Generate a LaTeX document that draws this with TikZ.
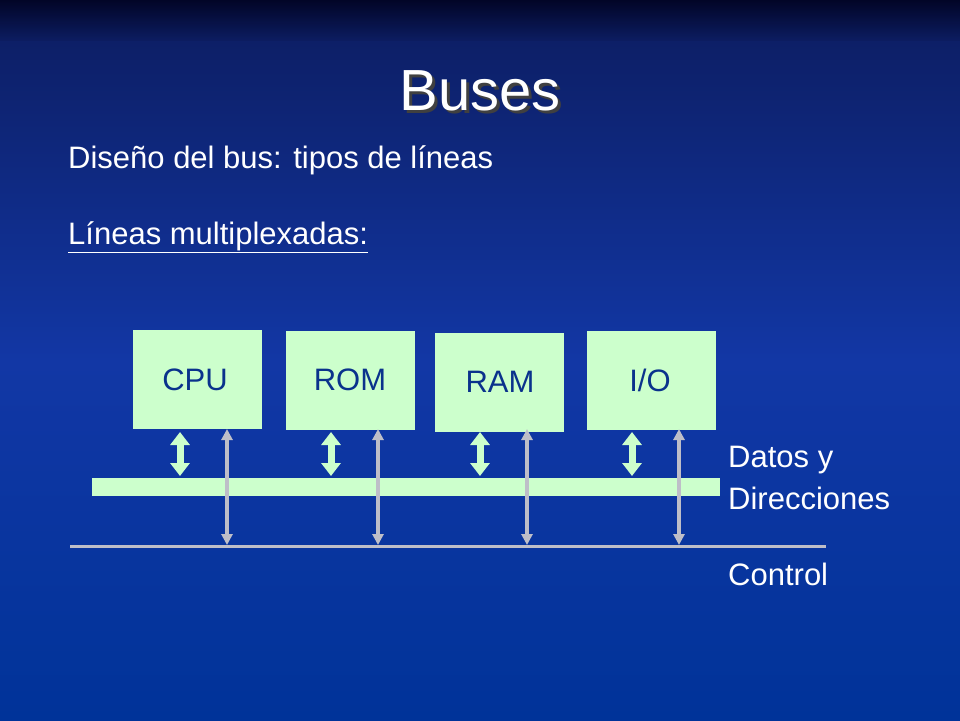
\documentclass[tikz,border=0pt]{standalone}
\usepackage{fontspec}
\setmainfont{Liberation Sans}
\usetikzlibrary{arrows.meta}
\definecolor{boxg}{RGB}{204,255,204}
\definecolor{txtb}{RGB}{10,50,140}
\definecolor{grayl}{RGB}{190,190,200}
\definecolor{bgtop}{RGB}{12,28,95}
\definecolor{bgmid}{RGB}{18,55,165}
\definecolor{bgbot}{RGB}{0,51,153}
\begin{document}
\begin{tikzpicture}[x=1pt,y=-1pt,
  unit/.style={fill=boxg,minimum width=129pt,minimum height=99pt,inner sep=0pt},
  utext/.style={text=txtb,font=\fontsize{31}{34}\selectfont},
  fat/.style={boxg,line width=7pt,{Triangle[width=19pt,length=13pt]}-{Triangle[width=19pt,length=13pt]}},
  ctl/.style={grayl,line width=4.5pt,{Triangle[width=11pt,length=11pt]}-{Triangle[width=11pt,length=11pt]}},
  lbl/.style={text=white,anchor=west,inner sep=0pt,font=\fontsize{31}{34}\selectfont}]
\shade[top color=bgtop,bottom color=bgbot,middle color=bgmid] (0,0) rectangle (960,720);
\shade[top color=black!90!blue,bottom color=bgtop,opacity=0.8] (0,0) rectangle (960,40);
\useasboundingbox (0,0) rectangle (960,720);
\node (title) [text=white,font=\fontsize{58}{64}\selectfont] at (480,92) {\rlap{\raisebox{-3pt}{\hspace{3pt}\textcolor{black!75}{Buses}}}Buses};
\node (sub) [lbl] at (68,160) {Diseño del bus: tipos de líneas};
\node (mux) [lbl] at (68,237) {\underline{Líneas multiplexadas:}};
\node (cpu) [unit,anchor=north west] at (133,330) {};
\node (rom) [unit,anchor=north west] at (286,331) {};
\node (ram) [unit,anchor=north west] at (435,333) {};
\node (io) [unit,anchor=north west] at (587,331) {};
\node [utext] at (195,380) {CPU};
\node [utext] at (350,380) {ROM};
\node [utext] at (500,382) {RAM};
\node [utext] at (650,380) {I/O};
\node (dbus) [fill=boxg,inner sep=0pt,minimum width=628pt,minimum height=18pt,anchor=north west] at (92,478) {};
\coordinate (c1) at (70,546); \coordinate (c2) at (826,546);
\draw[grayl,line width=3pt] (c1) -- (c2);
\foreach \x in {180,331,480,632}{
  \draw[fat] (\x,432) -- (\x,476);
}
\foreach \x in {227,378,527,679}{
  \draw[ctl] (\x,429) -- (\x,545);
}
\node (d1) [lbl] at (728,460) {Datos y};
\node (d2) [lbl] at (728,498) {Direcciones};
\node (ctrl) [lbl] at (728,574) {Control};
\end{tikzpicture}
\end{document}
